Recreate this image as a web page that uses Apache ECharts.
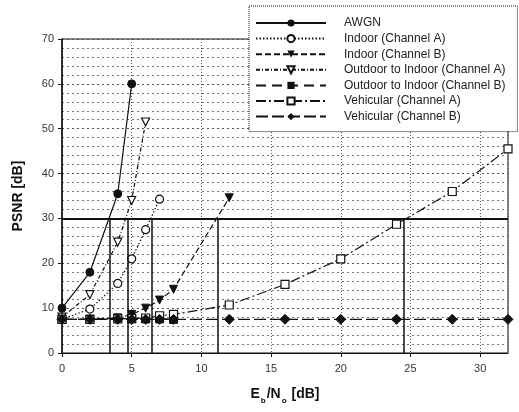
<!DOCTYPE html>
<html>
<head>
<meta charset="utf-8">
<script src="https://cdn.jsdelivr.net/npm/echarts@6/dist/echarts.min.js"></script>
<style>
  html, body { margin: 0; padding: 0; background: #fff; }
  #chart { width: 519px; height: 412px; }
</style>
</head>
<body>
<div id="chart"></div>
<script>
  // values
  const seriesNames = [
    'AWGN',
    'Indoor (Channel A)',
    'Indoor (Channel B)',
    'Outdoor to Indoor (Channel A)',
    'Outdoor to Indoor (Channel B)',
    'Vehicular (Channel A)',
    'Vehicular (Channel B)'
  ]
  const awgnX = [0, 2, 4, 5]
  const awgnY = [10, 18, 35.5, 60]
  const indoorAX = [0, 2, 4, 5, 6, 7]
  const indoorAY = [7.5, 9.8, 15.5, 21, 27.5, 34.3]
  const indoorBX = [0, 2, 4, 5, 6, 7, 8, 12]
  const indoorBY = [7.5, 7.5, 7.8, 8.6, 10, 11.8, 14.2, 34.6]
  const outdoorAX = [0, 2, 4, 5, 6]
  const outdoorAY = [8, 13, 24.7, 34, 51.5]
  const outdoorBX = [0, 2, 4, 5, 6, 7, 8]
  const outdoorBY = [7.5, 7.5, 7.8, 7.6, 7.6, 7.6, 7.5]
  const vehAX = [0, 2, 4, 5, 6, 7, 8, 12, 16, 20, 24, 28, 32]
  const vehAY = [7.5, 7.5, 7.6, 7.7, 7.8, 8.3, 8.6, 10.7, 15.3, 21, 28.7, 36, 45.5]
  const vehBX = [0, 2, 4, 5, 6, 7, 8, 12, 16, 20, 24, 28, 32]
  const vehBY = [7.5, 7.5, 7.5, 7.5, 7.5, 7.5, 7.5, 7.5, 7.5, 7.5, 7.5, 7.5, 7.5]
  const psnrLimit = 30
  const crossX = [3.4, 4.7, 6.45, 11.15, 24.5]

  const pairs = (xs, ys) => xs.map((x, i) => [x, ys[i]])

  const chart = echarts.init(document.getElementById('chart'))

  const ink = '#111'
  const filled = { color: ink, borderColor: ink }
  const hollow = { color: '#fff', borderColor: ink, borderWidth: 1.2 }

  function line(name, data, dash, symbol, style, extra) {
    return Object.assign({
      name: name,
      type: 'line',
      data: data,
      symbol: symbol,
      symbolSize: 8,
      showAllSymbol: true,
      lineStyle: { color: ink, width: 1.2, type: dash },
      itemStyle: style,
      emphasis: { disabled: true },
      z: 3
    }, extra || {})
  }

  const series = [
    line(seriesNames[0], pairs(awgnX, awgnY), 'solid', 'circle', filled),
    line(seriesNames[1], pairs(indoorAX, indoorAY), [1.5, 2], 'circle', hollow),
    line(seriesNames[2], pairs(indoorBX, indoorBY), [6, 3], 'triangle', filled, { symbolRotate: 180 }),
    line(seriesNames[3], pairs(outdoorAX, outdoorAY), [4, 2, 1, 2], 'triangle', hollow, { symbolRotate: 180 }),
    line(seriesNames[4], pairs(outdoorBX, outdoorBY), [10, 6], 'rect', filled),
    line(seriesNames[5], pairs(vehAX, vehAY), [10, 3, 2, 3], 'rect', hollow),
    line(seriesNames[6], pairs(vehBX, vehBY), [12, 4], 'diamond', filled, { symbolSize: 10 })
  ]

  // PSNR = 30 threshold and the crossing points
  series.push({
    type: 'line',
    data: [],
    silent: true,
    markLine: {
      symbol: 'none',
      silent: true,
      label: { show: false },
      animation: false,
      data: [[{ coord: [0, psnrLimit], lineStyle: { width: 2 } }, { coord: [32, psnrLimit] }]]
        .concat(crossX.map(x => [{ coord: [x, 0] }, { coord: [x, psnrLimit] }])),
      lineStyle: { color: ink, width: 1.5, type: 'solid' }
    },
    z: 2
  })

  chart.setOption({
    animation: false,
    backgroundColor: '#fff',
    grid: { left: 62, right: 11, top: 39, bottom: 59, show: true, borderColor: ink, borderWidth: 1 },
    legend: {
      data: seriesNames,
      orient: 'vertical',
      left: 249,
      top: 6,
      itemWidth: 70,
      itemHeight: 9,
      itemGap: 3.6,
      padding: [11, 12, 9, 6],
      backgroundColor: '#fff',
      borderColor: ink,
      borderWidth: 1,
      borderType: 'dotted',
      textStyle: { fontFamily: 'Liberation Sans', fontSize: 12, color: '#222', padding: [0, 0, 0, 13] },
      z: 10
    },
    xAxis: {
      type: 'value',
      min: 0,
      max: 32,
      interval: 5,
      name: '{b|E}{s|b}{b|/N}{s|o}{b| [dB]}',
      nameLocation: 'middle',
      nameGap: 34,
      nameTextStyle: {
        rich: {
          b: { fontFamily: 'Liberation Sans', fontWeight: 'bold', fontSize: 14, color: ink, lineHeight: 18, verticalAlign: 'top' },
          s: { fontFamily: 'Liberation Sans', fontWeight: 'bold', fontSize: 8, color: ink, lineHeight: 18, verticalAlign: 'bottom', padding: [10, 1, 0, 1] }
        }
      },
      axisLine: { lineStyle: { color: ink, width: 1 } },
      axisTick: { show: true, length: 4, inside: false, lineStyle: { color: ink } },
      axisLabel: { showMaxLabel: false, fontFamily: 'Liberation Sans', fontSize: 11, color: '#333', margin: 10 },
      splitLine: { show: true, lineStyle: { color: '#555', type: [1, 2], width: 1 } }
    },
    yAxis: {
      type: 'value',
      min: 0,
      max: 70,
      interval: 10,
      name: 'PSNR [dB]',
      nameLocation: 'middle',
      nameGap: 37,
      nameRotate: 90,
      nameTextStyle: { fontFamily: 'Liberation Sans', fontWeight: 'bold', fontSize: 14, color: ink },
      axisLine: { show: true, lineStyle: { color: ink, width: 1.5 } },
      axisTick: { show: true, length: 4, lineStyle: { color: ink } },
      axisLabel: { fontFamily: 'Liberation Sans', fontSize: 11, color: '#333', margin: 8 },
      splitLine: { show: true, lineStyle: { color: '#555', type: [2, 3], width: 1 } },
      minorTick: { show: false, splitNumber: 5 },
      minorSplitLine: { show: true, lineStyle: { color: '#777', type: [2, 3], width: 1 } }
    },
    series: series
  })
</script>
</body>
</html>
